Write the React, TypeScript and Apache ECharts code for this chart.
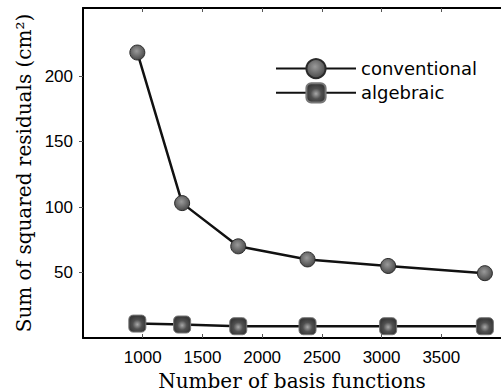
import React, { useEffect, useRef } from "react";
import * as echarts from "echarts";

const xConventional = [955, 1330, 1800, 2380, 3055, 3865];
const yConventional = [218, 103, 70, 60, 55, 49.5];
const xAlgebraic = [955, 1330, 1800, 2380, 3055, 3865];
const yAlgebraic = [11, 10.3, 9, 9, 9, 9];
const xTicks = [1000, 1500, 2000, 2500, 3000, 3500];
const yTicks = [50, 100, 150, 200];
const seriesNames = ["conventional", "algebraic"];

const circleFill = new echarts.graphic.RadialGradient(0.45, 0.4, 0.6, [
  { offset: 0, color: "#9a9a9a" },
  { offset: 1, color: "#4a4a4a" },
]);
const squareFill = new echarts.graphic.RadialGradient(0.5, 0.55, 0.5, [
  { offset: 0, color: "#a8a8a8" },
  { offset: 0.55, color: "#505050" },
  { offset: 1, color: "#3a3a3a" },
]);

export default function App() {
  const ref = useRef<HTMLDivElement>(null);
  useEffect(() => {
    const chart = echarts.init(ref.current!, null, { renderer: "svg" });
    const axisLine = { show: true, lineStyle: { color: "#000", width: 2 } };
    const titleFont = { fontFamily: "DejaVu Serif", fontSize: 20, color: "#000" };
    chart.setOption({
      animation: false,
      backgroundColor: "#fff",
      grid: { left: 83, top: 8, right: 0, bottom: 54, containLabel: false, outerBoundsMode: "none" },
      legend: {
        orient: "vertical",
        left: 275,
        top: 58,
        padding: 0,
        itemWidth: 80,
        itemHeight: 24,
        itemGap: 3,
        data: seriesNames,
        textStyle: { fontFamily: "DejaVu Sans", fontSize: 18, color: "#000" },
      },
      xAxis: [
        {
          type: "value",
          min: 500,
          max: 4000,
          position: "bottom",
          axisLine,
          splitLine: { show: false },
          axisTick: { show: true, inside: true, length: 4, customValues: xTicks, lineStyle: { color: "#555", width: 1 } },
          axisLabel: {
            customValues: xTicks,
            formatter: (v: number) => String(v),
            margin: 11,
            fontFamily: "Liberation Sans",
            fontSize: 17,
            color: "#000",
          },
          name: "Number of basis functions",
          nameLocation: "middle",
          nameGap: 31,
          nameTextStyle: titleFont,
        },
        {
          type: "value",
          min: 500,
          max: 4000,
          position: "top",
          axisLine,
          splitLine: { show: false },
          axisTick: { show: true, inside: true, length: 4, customValues: xTicks, lineStyle: { color: "#555", width: 1 } },
          axisLabel: { show: false },
        },
      ],
      yAxis: {
        type: "value",
        min: 0,
        max: 252,
        axisLine,
        splitLine: { show: false },
        axisTick: { show: true, inside: false, length: 4, customValues: yTicks, lineStyle: { color: "#555", width: 1 } },
        axisLabel: {
          customValues: yTicks,
          formatter: (v: number) => String(v),
          margin: 10,
          fontFamily: "Liberation Sans",
          fontSize: 17,
          color: "#000",
        },
        name: "Sum of squared residuals (cm²)",
        nameLocation: "middle",
        nameGap: 44,
        nameTextStyle: titleFont,
      },
      series: [
        {
          name: seriesNames[0],
          type: "line",
          data: xConventional.map((x, i) => [x, yConventional[i]]),
          symbol: "circle",
          symbolSize: 15,
          lineStyle: { color: "#111", width: 2.5 },
          itemStyle: { color: circleFill, borderColor: "#2a2a2a", borderWidth: 1 },
          z: 3,
        },
        {
          name: seriesNames[1],
          type: "line",
          data: xAlgebraic.map((x, i) => [x, yAlgebraic[i]]),
          symbol: "roundRect",
          symbolSize: 17,
          lineStyle: { color: "#111", width: 2.5 },
          itemStyle: { color: squareFill, borderColor: "#777", borderWidth: 1 },
          z: 3,
        },
      ],
    });
    return () => chart.dispose();
  }, []);
  return (
    <div
      ref={ref}
      style={{ position: "absolute", left: 0, top: 0, width: 501, height: 392 }}
    />
  );
}
